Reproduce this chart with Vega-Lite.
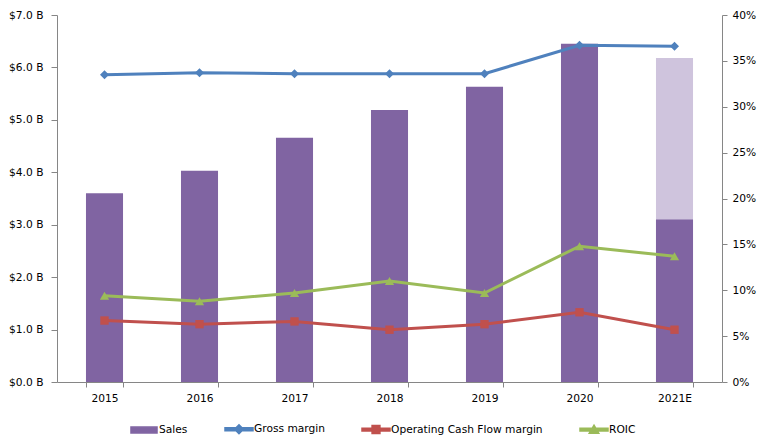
{
  "$schema": "https://vega.github.io/schema/vega-lite/v6.json",
  "width": 665,
  "height": 367,
  "autosize": {"type": "none"},
  "padding": {"left": 57, "top": 15, "right": 44, "bottom": 66},
  "background": "white",
  "config": {
    "view": {"stroke": null},
    "font": "DejaVu Sans",
    "axis": {
      "labelFont": "DejaVu Sans",
      "labelFontSize": 10.67,
      "labelColor": "#000000",
      "domainColor": "#868686",
      "tickColor": "#868686",
      "domainWidth": 1,
      "tickWidth": 1,
      "grid": false,
      "title": null
    },
    "legend": {
      "labelFont": "DejaVu Sans",
      "labelFontSize": 10.67,
      "labelColor": "#000000"
    }
  },
  "data": {
    "values": [
      {"year": "2015", "sales": 3.6, "est": null, "gm": 0.335, "ocf": 0.067, "roic": 0.094},
      {"year": "2016", "sales": 4.03, "est": null, "gm": 0.337, "ocf": 0.063, "roic": 0.088},
      {"year": "2017", "sales": 4.66, "est": null, "gm": 0.336, "ocf": 0.066, "roic": 0.097},
      {"year": "2018", "sales": 5.19, "est": null, "gm": 0.336, "ocf": 0.057, "roic": 0.110},
      {"year": "2019", "sales": 5.63, "est": null, "gm": 0.336, "ocf": 0.063, "roic": 0.097},
      {"year": "2020", "sales": 6.45, "est": null, "gm": 0.367, "ocf": 0.076, "roic": 0.148},
      {"year": "2021E", "sales": 3.1, "est": 6.18, "gm": 0.366, "ocf": 0.057, "roic": 0.137}
    ]
  },
  "encoding": {
    "x": {
      "field": "year",
      "type": "nominal",
      "sort": null,
      "scale": {"domain": ["2015", "2016", "2017", "2018", "2019", "2020", "2021E"], "paddingInner": 0.61, "paddingOuter": 0.305},
      "axis": {"labelAngle": 0, "tickBand": "extent", "tickSize": 5, "labelPadding": 6}
    }
  },
  "layer": [
    {
      "layer": [
        {
          "mark": {"type": "bar", "color": "#CFC4DD"},
          "encoding": {
            "y": {"field": "est", "type": "quantitative"}
          }
        },
        {
          "mark": {"type": "bar"},
          "encoding": {
            "y": {
              "field": "sales",
              "type": "quantitative",
              "scale": {"domain": [0, 7], "nice": false},
              "axis": {
                "orient": "left",
                "values": [0, 1, 2, 3, 4, 5, 6, 7],
                "labelExpr": "'$' + format(datum.value, '.1f') + ' B'",
                "tickSize": 6,
                "labelPadding": 8
              }
            },
            "color": {
              "datum": "Sales",
              "type": "nominal",
              "scale": {
                "domain": ["Sales", "Gross margin", "Operating Cash Flow margin", "ROIC"],
                "range": ["#8064A2", "#4F81BD", "#C0504D", "#9BBB59"]
              },
              "legend": {
                "title": null,
                "orient": "none",
                "direction": "horizontal",
                "legendX": 72,
                "legendY": 399,
                "padding": 0,
                "columnPadding": 34,
                "labelOffset": 0,
                "symbolSize": 784,
                "encode": {
                  "symbols": {
                    "update": {
                      "shape": {"signal": "datum.value === 'Sales' ? 'M-0.93,-0.21H0.93V0.21H-0.93Z' : datum.value === 'Gross margin' ? 'M-1,-0.1H1V0.1H-1Z M0,-0.32L0.32,0L0,0.32L-0.32,0Z' : datum.value === 'ROIC' ? 'M-1,-0.1H1V0.1H-1Z M0,-0.32L0.34,0.26H-0.34Z' : 'M-1,-0.1H1V0.1H-1Z M-0.28,-0.28H0.28V0.28H-0.28Z'"},
                      "fill": {"signal": "scale('color', datum.value)"},
                      "stroke": {"value": "transparent"},
                      "size": {"value": 784},
                      "opacity": {"value": 1},
                      "fillOpacity": {"value": 1}
                    }
                  }
                }
              }
            }
          }
        }
      ]
    },
    {
      "layer": [
        {
          "mark": {"type": "line", "strokeWidth": 3, "point": {"shape": "diamond", "size": 81, "filled": true}},
          "encoding": {
            "y": {
              "field": "gm",
              "type": "quantitative",
              "scale": {"domain": [0, 0.4], "nice": false},
              "axis": {
                "orient": "right",
                "values": [0, 0.05, 0.1, 0.15, 0.2, 0.25, 0.3, 0.35, 0.4],
                "format": ".0%",
                "tickSize": 5,
                "labelPadding": 5
              }
            },
            "color": {"datum": "Gross margin", "type": "nominal"}
          }
        },
        {
          "mark": {"type": "line", "strokeWidth": 3, "point": {"shape": "square", "size": 70, "filled": true}},
          "encoding": {
            "y": {"field": "ocf", "type": "quantitative"},
            "color": {"datum": "Operating Cash Flow margin", "type": "nominal"}
          }
        },
        {
          "mark": {"type": "line", "strokeWidth": 3, "point": {"shape": "triangle-up", "size": 85, "filled": true}},
          "encoding": {
            "y": {"field": "roic", "type": "quantitative"},
            "color": {"datum": "ROIC", "type": "nominal"}
          }
        }
      ]
    }
  ],
  "resolve": {"scale": {"y": "independent"}}
}
